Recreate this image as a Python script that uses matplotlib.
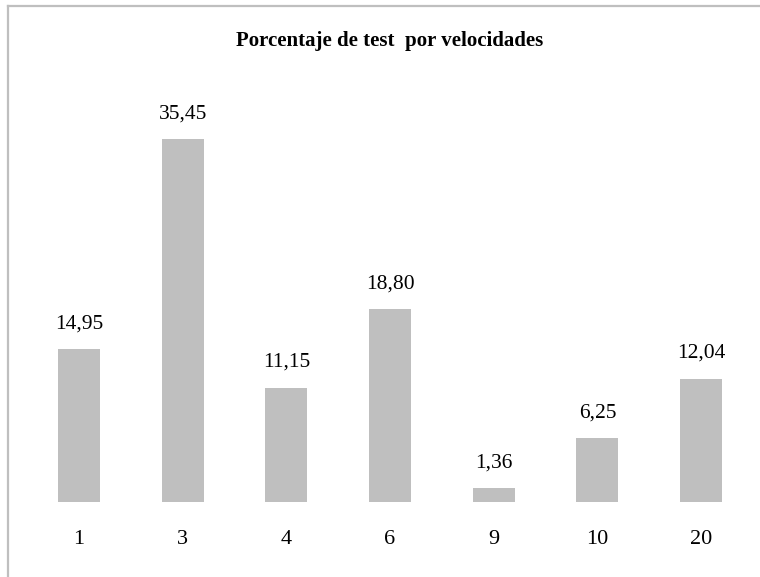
import matplotlib
matplotlib.use("Agg")
import matplotlib.pyplot as plt
from matplotlib.lines import Line2D

categories = ["1", "3", "4", "6", "9", "10", "20"]
values = [14.95, 35.45, 11.15, 18.80, 1.36, 6.25, 12.04]
value_labels = ["14,95", "35,45", "11,15", "18,80", "1,36", "6,25", "12,04"]
title = "Porcentaje de test  por velocidades"

plt.rcParams['font.family'] = ['Liberation Serif', 'DejaVu Serif']

W, H = 760, 577
fig = plt.figure(figsize=(W / 100, H / 100), dpi=100)
left_px, right_px = 27.2, 752.9
base_px, top_px = 502, 92.4
ax = fig.add_axes([left_px / W, (H - base_px) / H, (right_px - left_px) / W, (base_px - top_px) / H])

x = list(range(len(categories)))
ax.bar(x, values, width=0.405, color="#BFBFBF")
ax.set_xlim(-0.5, len(categories) - 0.5)
ax.set_ylim(0, 40)
for xi, v, lab in zip(x, values, value_labels):
    ax.annotate(lab, (xi, v), xytext=(0, 15), textcoords="offset points",
                ha="center", va="baseline", fontsize=15.5, color="#000000")
ax.set_xticks(x)
ax.set_xticklabels(categories, fontsize=16)
ax.tick_params(axis="x", length=0, pad=20)
ax.set_yticks([])
for s in ax.spines.values():
    s.set_visible(False)

fig.text((left_px + right_px) / 2 / W, 1 - 46 / H, title, ha="center", va="baseline",
         fontsize=15, fontweight="bold")

fig.add_artist(Line2D([7.5 / W, 7.5 / W], [0, 1 - 5.5 / H], color="#BFBFBF", lw=1.6))
fig.add_artist(Line2D([7.5 / W, 1], [1 - 5.5 / H, 1 - 5.5 / H], color="#BFBFBF", lw=1.6))

fig.savefig("out.png", dpi=100)
